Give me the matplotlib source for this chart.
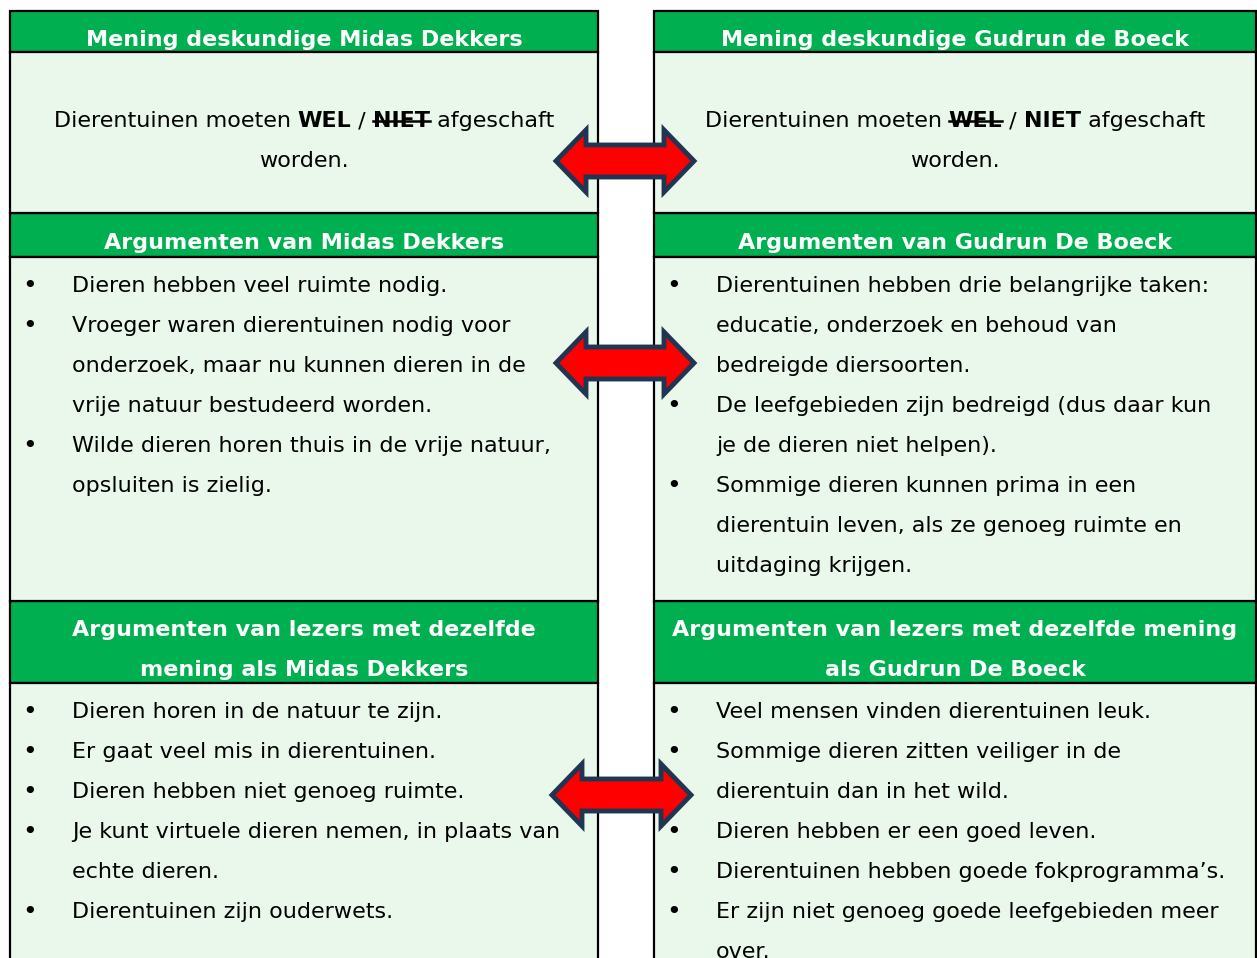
#!/usr/bin/env python3
import matplotlib
matplotlib.use('Agg')
import matplotlib.pyplot as plt
from matplotlib.patches import Rectangle, Polygon

# texts of the two columns
headers_left = ['Mening deskundige Midas Dekkers',
                'Argumenten van Midas Dekkers',
                'Argumenten van lezers met dezelfde\nmening als Midas Dekkers']
headers_right = ['Mening deskundige Gudrun de Boeck',
                 'Argumenten van Gudrun De Boeck',
                 'Argumenten van lezers met dezelfde mening\nals Gudrun De Boeck']

opinion_left = ('WEL', 'NIET')    # second word struck through
opinion_right = ('WEL', 'NIET')   # first word struck through
strike_left = 1
strike_right = 0

args_left = [['Dieren hebben veel ruimte nodig.'],
             ['Vroeger waren dierentuinen nodig voor',
              'onderzoek, maar nu kunnen dieren in de',
              'vrije natuur bestudeerd worden.'],
             ['Wilde dieren horen thuis in de vrije natuur,',
              'opsluiten is zielig.']]
args_right = [['Dierentuinen hebben drie belangrijke taken:',
               'educatie, onderzoek en behoud van',
               'bedreigde diersoorten.'],
              ['De leefgebieden zijn bedreigd (dus daar kun',
               'je de dieren niet helpen).'],
              ['Sommige dieren kunnen prima in een',
               'dierentuin leven, als ze genoeg ruimte en',
               'uitdaging krijgen.']]
readers_left = [['Dieren horen in de natuur te zijn.'],
                ['Er gaat veel mis in dierentuinen.'],
                ['Dieren hebben niet genoeg ruimte.'],
                ['Je kunt virtuele dieren nemen, in plaats van',
                 'echte dieren.'],
                ['Dierentuinen zijn ouderwets.']]
readers_right = [['Veel mensen vinden dierentuinen leuk.'],
                 ['Sommige dieren zitten veiliger in de',
                  'dierentuin dan in het wild.'],
                 ['Dieren hebben er een goed leven.'],
                 ['Dierentuinen hebben goede fokprogramma\u2019s.'],
                 ['Er zijn niet genoeg goede leefgebieden meer',
                  'over.']]

W, H = 1257, 958
GREEN = '#00B050'
BG = '#EAF7EB'
RED = '#FF0000'
NAVY = '#1F3551'
FS = 16
LH = 40

fig = plt.figure(figsize=(W / 100, H / 100), dpi=100)
ax = fig.add_axes([0, 0, 1, 1])
ax.set_xlim(0, W)
ax.set_ylim(H, 0)
ax.axis('off')

cols = [(10, 598), (654, 1256)]
head_rows = [(11, 52), (213, 257), (601, 683)]
body_rows = [(52, 213), (257, 601), (683, 975)]

for x0, x1 in cols:
    for y0, y1 in head_rows:
        ax.add_patch(Rectangle((x0, y0), x1 - x0, y1 - y0, fc=GREEN, ec='black', lw=1.6, zorder=1))
    for y0, y1 in body_rows:
        ax.add_patch(Rectangle((x0, y0), x1 - x0, y1 - y0, fc=BG, ec='black', lw=1.6, zorder=1))

for (x0, x1), heads in zip(cols, [headers_left, headers_right]):
    xc = (x0 + x1) / 2
    for (y0, y1), h in zip(head_rows, heads):
        lines = h.split('\n')
        ym = (y0 + y1) / 2 + 8
        for i, ln in enumerate(lines):
            y = ym + (i - (len(lines) - 1) / 2) * LH
            ax.text(xc, y, ln, color='white', fontsize=FS, fontweight='bold',
                    ha='center', va='center', zorder=3)


def bullets(items, x0, ytop):
    y = ytop
    for item in items:
        ax.text(x0 + 20, y, '\u2022', fontsize=FS + 2, ha='center', va='center', zorder=3)
        for ln in item:
            ax.text(x0 + 62, y, ln, fontsize=FS, ha='left', va='center', zorder=3)
            y += LH


bullets(args_left, cols[0][0], 286)
bullets(args_right, cols[1][0], 286)
bullets(readers_left, cols[0][0], 712)
bullets(readers_right, cols[1][0], 712)

# opinion line with struck word
fig.canvas.draw()
renderer = fig.canvas.get_renderer()


def opinion(words, strike, xc, y):
    parts = [('Dierentuinen moeten ', 'normal'), (words[0], 'bold'), (' / ', 'normal'),
             (words[1], 'bold'), (' afgeschaft', 'normal')]
    texts = []
    x = 0
    for s, wgt in parts:
        t = ax.text(x, y, s, fontsize=FS, fontweight=wgt, ha='left', va='center', zorder=3)
        bb = t.get_window_extent(renderer)
        texts.append((t, x, bb.width))
        x += bb.width
    shift = xc - x / 2
    for t, px, w in texts:
        t.set_x(px + shift)
    t, px, w = texts[1 if strike == 0 else 3]
    ax.plot([px + shift, px + shift + w], [y, y], color='black', lw=1.8, zorder=4)
    ax.text(xc, y + LH, 'worden.', fontsize=FS, ha='center', va='center', zorder=3)


opinion(opinion_left, strike_left, 304, 121)
opinion(opinion_right, strike_right, 955, 121)


def double_arrow(xl, xr, yc, hh=31, sh=16, hl=30):
    pts = [(xl, yc), (xl + hl, yc - hh), (xl + hl, yc - sh), (xr - hl, yc - sh),
           (xr - hl, yc - hh), (xr, yc), (xr - hl, yc + hh), (xr - hl, yc + sh),
           (xl + hl, yc + sh), (xl + hl, yc + hh)]
    ax.add_patch(Polygon(pts, closed=True, fc=RED, ec=NAVY, lw=3.5, joinstyle='miter', zorder=5))


double_arrow(556, 694, 161)
double_arrow(556, 694, 363)
double_arrow(552, 691, 795)

fig.savefig('out.png', dpi=100)
